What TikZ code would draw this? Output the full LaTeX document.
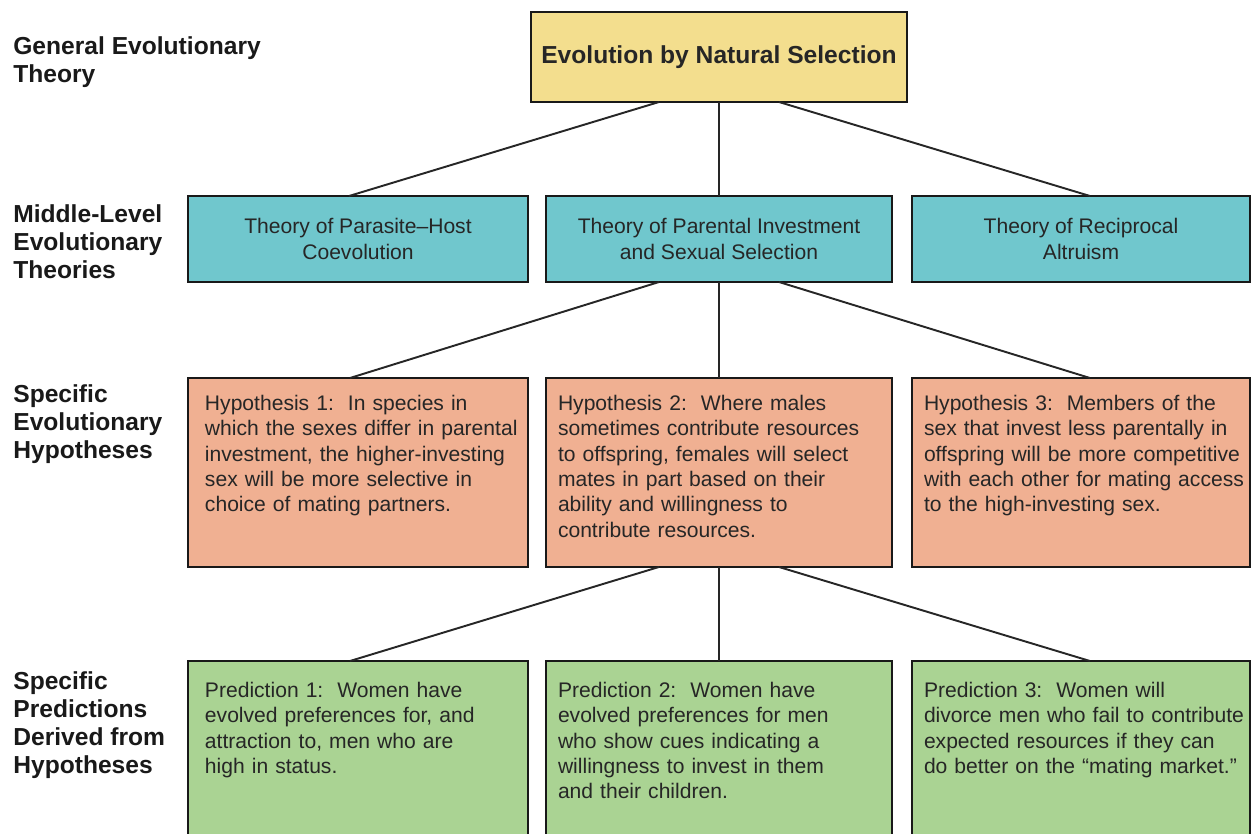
\documentclass[tikz,border=0pt]{standalone}
\usepackage{fontspec}
\setmainfont{Liberation Sans}
\usepackage{tikz}
\hyphenpenalty=10000
\hfuzz=20pt
\definecolor{natcol}{RGB}{243,222,142}
\definecolor{theorycol}{RGB}{112,199,205}
\definecolor{hypcol}{RGB}{240,176,146}
\definecolor{predcol}{RGB}{170,211,147}
\tikzset{lvlbox/.style={draw=black!90, line width=1.6pt, outer sep=0pt, text=black!85,
    font=\fontsize{12}{14.4}\selectfont}
}
\tikzset{theorybox/.style={lvlbox, fill=theorycol, minimum height=1.72cm,
    align=center, font=\fontsize{12}{15.2}\selectfont}
}
% long lines may run a little into the right padding
\tikzset{textbox/.style={lvlbox, anchor=north west, align=left, inner ysep=0.2cm,
    execute at begin node={\rightskip=0pt plus 1fil minus 1cm}}
}
\tikzset{hypbox/.style={textbox, fill=hypcol, text height=0.45cm, text depth=2.93cm}}
\tikzset{predbox/.style={textbox, fill=predcol, text height=0.53cm, text depth=4cm}}
\tikzset{rowlabel/.style={anchor=north west, align=left, inner sep=0pt,
    text=black!90, font=\bfseries\fontsize{14}{16}\selectfont}
}
\tikzset{link/.style={draw=black!85, line width=1.1pt}}

\begin{document}
\begin{tikzpicture}[x=0.02cm, y=-0.02cm]
    \useasboundingbox (0,0) rectangle (1252,833);
    \clip (0,0) rectangle (1252,833);

    % Levels
    \node[rowlabel] (lgen) at (13,36) {General Evolutionary\\Theory};
    \node[rowlabel] (lmid) at (13,204) {Middle-Level\\Evolutionary\\Theories};
    \node[rowlabel] (lhyp) at (13,384) {Specific\\Evolutionary\\Hypotheses};
    \node[rowlabel] (lpred) at (13,671) {Specific\\Predictions\\Derived from\\Hypotheses};

    % General theory
    \node[lvlbox, fill=natcol, minimum width=7.52cm, minimum height=1.8cm,
        font=\bfseries\fontsize{14}{16}\selectfont] (nat) at (719,57) {Evolution by Natural Selection};

    % Middle-level theories
    \node[theorybox, minimum width=6.8cm] (parasite) at (358,239) {Theory of Parasite--Host\\Coevolution};
    \node[theorybox, minimum width=6.92cm] (parental) at (719,239) {Theory of Parental Investment\\and Sexual Selection};
    \node[theorybox, minimum width=6.76cm] (altruism) at (1081,239) {Theory of Reciprocal\\Altruism};

    % Hypotheses
    \node[hypbox, inner xsep=0.34cm, text width=6.12cm] (hyp1) at (188,378) {Hypothesis 1:\ \ In species in\\\mbox{which the sexes differ in parental}\\investment, the higher-investing\\sex will be more selective in\\choice of mating partners.};
    \node[hypbox, inner xsep=0.24cm, text width=6.44cm] (hyp2) at (546,378) {Hypothesis 2:\ \ Where males\\sometimes contribute resources\\to offspring, females will select\\mates in part based on their\\ability and willingness to\\contribute resources.};
    \node[hypbox, inner xsep=0.24cm, text width=6.28cm] (hyp3) at (912,378) {Hypothesis 3:\ \ Members of the\\\mbox{sex that invest less parentally in}\\\mbox{offspring will be more competitive}\\\mbox{with each other for mating access}\\to the high-investing sex.};

    % Predictions
    \node[predbox, inner xsep=0.34cm, text width=6.12cm] (pred1) at (188,661) {Prediction 1:\ \ Women have\\evolved preferences for, and\\attraction to, men who are\\high in status.};
    \node[predbox, inner xsep=0.24cm, text width=6.44cm] (pred2) at (546,661) {Prediction 2:\ \ Women have\\evolved preferences for men\\who show cues indicating a\\willingness to invest in them\\and their children.};
    \node[predbox, inner xsep=0.24cm, text width=6.28cm] (pred3) at (912,661) {Prediction 3:\ \ Women will\\\mbox{divorce men who fail to contribute}\\expected resources if they can\\\mbox{do better on the “mating market.”}};

    % Links
    \draw[link] ([xshift=-1.2cm]nat.south) -- ([xshift=-0.18cm]parasite.north);
    \draw[link] (nat.south) -- (parental.north);
    \draw[link] ([xshift=1.2cm]nat.south) -- ([xshift=0.18cm]altruism.north);

    \draw[link] ([xshift=-1.2cm]parental.south) -- ([xshift=-0.16cm]hyp1.north);
    \draw[link] (parental.south) -- (hyp2.north);
    \draw[link] ([xshift=1.2cm]parental.south) -- ([xshift=0.18cm]hyp3.north);

    \draw[link] ([xshift=-1.2cm]hyp2.south) -- ([xshift=-0.16cm]pred1.north);
    \draw[link] (hyp2.south) -- (pred2.north);
    \draw[link] ([xshift=1.2cm]hyp2.south) -- ([xshift=0.18cm]pred3.north);
\end{tikzpicture}
\end{document}
